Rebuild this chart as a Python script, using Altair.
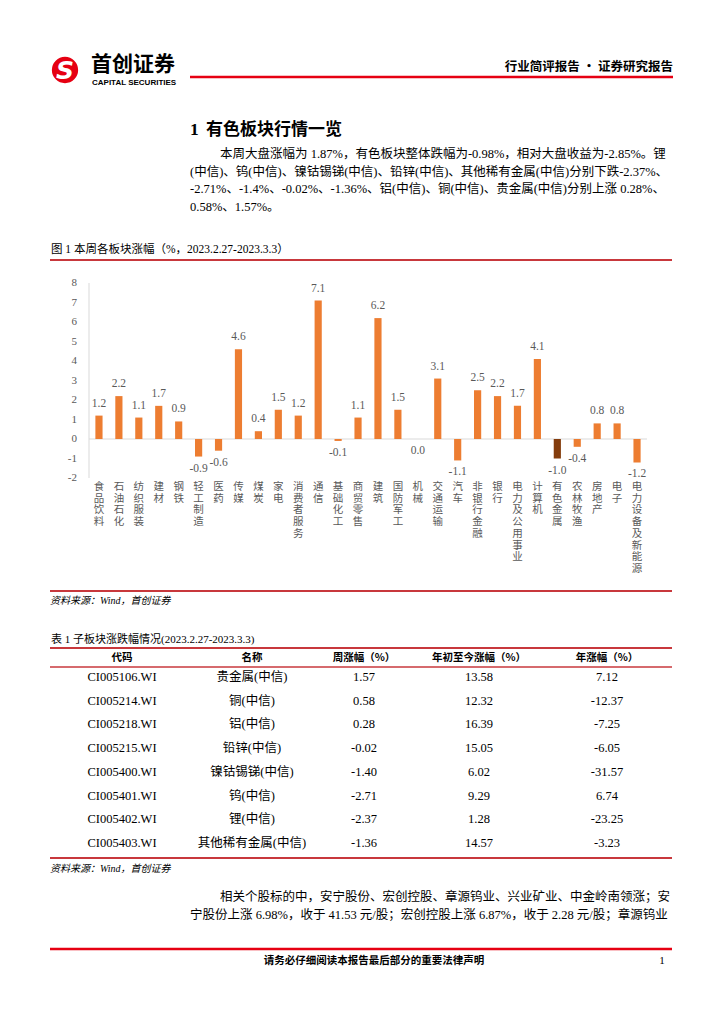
import altair as alt
import pandas as pd

# ---------------- data ----------------
categories = ["食品饮料", "石油石化", "纺织服装", "建材", "钢铁", "轻工制造", "医药", "传媒",
              "煤炭", "家电", "消费者服务", "通信", "基础化工", "商贸零售", "建筑", "国防军工",
              "机械", "交通运输", "汽车", "非银行金融", "银行", "电力及公用事业", "计算机",
              "有色金属", "农林牧渔", "房地产", "电子", "电力设备及新能源"]
values = [1.2, 2.2, 1.1, 1.7, 0.9, -0.9, -0.6, 4.6, 0.4, 1.5, 1.2, 7.1, -0.1, 1.1, 6.2, 1.5,
          0.0, 3.1, -1.1, 2.5, 2.2, 1.7, 4.1, -1.0, -0.4, 0.8, 0.8, -1.2]
y_ticks = [-2, -1, 0, 1, 2, 3, 4, 5, 6, 7, 8]
highlight = "有色金属"

codes = ["CI005106.WI", "CI005214.WI", "CI005218.WI", "CI005215.WI", "CI005400.WI",
         "CI005401.WI", "CI005402.WI", "CI005403.WI"]
names = ["贵金属(中信)", "铜(中信)", "铝(中信)", "铅锌(中信)", "镍钴锡锑(中信)", "钨(中信)",
         "锂(中信)", "其他稀有金属(中信)"]
weekly = [1.57, 0.58, 0.28, -0.02, -1.40, -2.71, -2.37, -1.36]
ytd = [13.58, 12.32, 16.39, 15.05, 6.02, 9.29, 1.28, 14.57]
yearly = [7.12, -12.37, -7.25, -6.05, -31.57, 6.74, -23.25, -3.23]
table_headers = ["代码", "名称", "周涨幅（%）", "年初至今涨幅（%）", "年涨幅（%）"]

para1 = ["本周大盘涨幅为 1.87%，有色板块整体跌幅为-0.98%，相对大盘收益为-2.85%。锂",
         "(中信)、钨(中信)、镍钴锡锑(中信)、铅锌(中信)、其他稀有金属(中信)分别下跌-2.37%、",
         "-2.71%、-1.4%、-0.02%、-1.36%、铝(中信)、铜(中信)、贵金属(中信)分别上涨 0.28%、",
         "0.58%、1.57%。"]
para2 = ["相关个股标的中，安宁股份、宏创控股、章源钨业、兴业矿业、中金岭南领涨；安",
         "宁股份上涨 6.98%，收于 41.53 元/股；宏创控股上涨 6.87%，收于 2.28 元/股；章源钨业"]

# ---------------- helpers ----------------
SERIF = "Liberation Serif, Noto Sans CJK SC"
SANS = "Noto Sans CJK SC"
OFF = 8
one = alt.Data(values=[{"k": 1}])


def txt(s, x, y, size=12.5, font=SERIF, align="left", weight="normal", style="normal",
        color="#000000", baseline="middle"):
    return alt.Chart(one).mark_text(
        text=s, align=align, baseline=baseline, fontSize=size, font=font,
        fontWeight=weight, fontStyle=style, color=color
    ).encode(x=alt.value(x - OFF), y=alt.value(y - OFF))


def hline(x1, x2, y, color, w):
    return alt.Chart(one).mark_rule(color=color, strokeWidth=w).encode(
        x=alt.value(x1 - OFF), x2=alt.value(x2 - OFF), y=alt.value(y - OFF))


RED_HDR = "#E60012"
RED = "#C8383C"
GRAY = "#595959"

# ---------------- page furniture ----------------
page = [
    alt.Chart(one).mark_circle(size=690, color=RED_HDR, opacity=1).encode(
        x=alt.value(65 - OFF), y=alt.value(70 - OFF)),
    txt("S", 65, 71, size=25, font="DejaVu Sans", align="center", weight="bold",
        style="italic", color="#FFFFFF"),
    txt("首创证券", 91, 65, size=21, font=SANS, weight="bold"),
    txt("CAPITAL SECURITIES", 92, 83, size=8, font="Liberation Sans", weight="bold"),
    hline(190, 673, 77, RED_HDR, 2.5),
    txt("行业简评报告 · 证券研究报告", 673, 67, size=12.5, font=SANS, align="right", weight="bold"),
    txt("1", 190, 130, size=17.5, font=SERIF, weight="bold"),
    txt("有色板块行情一览", 206, 130, size=17, font=SERIF, weight="bold"),
]
for i, line in enumerate(para1):
    page.append(txt(line, 220 if i == 0 else 190, 154 + i * 17.7))
page += [
    txt("图 1 本周各板块涨幅（%，2023.2.27-2023.3.3）", 51, 250, size=11.5, font=SERIF),
    hline(50, 672, 260, RED, 2),
    hline(50, 672, 591, RED, 2),
    txt("资料来源：Wind，首创证券", 50, 601, size=10, style="italic"),
    txt("表 1 子板块涨跌幅情况(2023.2.27-2023.3.3)", 51, 640, size=11, font=SERIF),
    hline(50, 672, 648, RED, 2),
    hline(50, 672, 667, RED, 1.5),
    hline(50, 672, 858, RED, 2),
    txt("资料来源：Wind，首创证券", 50, 869, size=10, style="italic"),
]
for i, line in enumerate(para2):
    page.append(txt(line, 220 if i == 0 else 190, 897 + i * 18))
page += [
    hline(50, 672, 949, RED_HDR, 2.5),
    txt("请务必仔细阅读本报告最后部分的重要法律声明", 374, 961, size=10.5, font=SANS,
        align="center", weight="bold"),
    txt("1", 662, 961, size=11, align="center"),
]

# table header text
col_x = [122, 252, 364, 479, 607]
for hx, h in zip(col_x, table_headers):
    page.append(txt(h, hx, 658, size=10.5, font=SANS, align="center", weight="bold"))

# ---------------- bar chart ----------------
df = pd.DataFrame({"cat": categories, "val": values})
df["label"] = [f"{v:.1f}" for v in values]
df["stack"] = ["\n".join(c) for c in categories]

xs = alt.X("cat:N", sort=categories,
           scale=alt.Scale(range=[89 - OFF, 647 - OFF], paddingInner=0.64, paddingOuter=0.32),
           axis=None)
yscale = alt.Scale(domain=[-2, 8], range=[478 - OFF, 283 - OFF], nice=False, zero=False)
ys = alt.Y("val:Q", scale=yscale, axis=None)

base = alt.Chart(df)
bars = base.mark_bar().encode(
    x=xs, y=ys,
    color=alt.when(alt.datum.cat == highlight).then(alt.value("#843C0C")).otherwise(alt.value("#ED7D31")),
)
lab_pos = base.transform_filter(alt.datum.val > 0).mark_text(
    baseline="middle", dy=-12, fontSize=11.5, font=SERIF, color=GRAY
).encode(x=xs, y=ys, text="label:N")
lab_neg = base.transform_filter(alt.datum.val <= 0).mark_text(
    baseline="middle", dy=12, fontSize=11.5, font=SERIF, color=GRAY
).encode(x=xs, y=ys, text="label:N")
xlab = base.mark_text(
    baseline="top", align="center", fontSize=10.5, lineHeight=11.7, lineBreak="\n",
    font=SERIF, color=GRAY
).encode(x=xs, y=alt.value(482 - OFF), text="stack:N")

tick_df = pd.DataFrame({"val": y_ticks, "t": [str(t) for t in y_ticks]})
ticks = alt.Chart(tick_df).mark_text(
    align="right", baseline="middle", fontSize=11, font=SERIF, color=GRAY
).encode(x=alt.value(77 - OFF), y=alt.Y("val:Q", scale=yscale, axis=None), text="t:N")

axis_df = pd.DataFrame({"lo": [min(y_ticks)], "hi": [max(y_ticks)], "zero": [0]})
yaxis = alt.Chart(axis_df).mark_rule(color="#D9D9D9", strokeWidth=1).encode(
    x=alt.value(89 - OFF), y=alt.Y("lo:Q", scale=yscale, axis=None), y2="hi:Q")
zline = alt.Chart(axis_df).mark_rule(color="#D9D9D9", strokeWidth=1).encode(
    x=alt.value(89 - OFF), x2=alt.value(647 - OFF), y=alt.Y("zero:Q", scale=yscale, axis=None))

chart_layer = alt.layer(yaxis, zline, bars, lab_pos, lab_neg, xlab, ticks)

# ---------------- table ----------------
tdf = pd.DataFrame({"code": codes, "name": names, "w": weekly, "ytd": ytd, "yr": yearly})
for f in ["w", "ytd", "yr"]:
    tdf[f + "_s"] = [f"{v:.2f}" for v in tdf[f]]
ty = alt.Y("code:N", sort=codes,
           scale=alt.Scale(type="point", range=[677 - OFF, 843 - OFF], padding=0), axis=None)
tbase = alt.Chart(tdf)
cells = []
for cx, field in zip(col_x, ["code", "name", "w_s", "ytd_s", "yr_s"]):
    cells.append(tbase.mark_text(align="center", baseline="middle", fontSize=12.5, font=SERIF,
                                 color="#000000").encode(x=alt.value(cx - OFF), y=ty,
                                                         text=alt.Text(f"{field}:N")))
table_layer = alt.layer(*cells)

chart = alt.layer(*page, chart_layer, table_layer).resolve_scale(
    x="independent", y="independent"
).properties(
    width=708, height=1008, padding=0, autosize=alt.AutoSizeParams(type="none")
).configure_view(stroke=None)

chart.save("out.html", embed_options={"renderer": "svg", "actions": False})
